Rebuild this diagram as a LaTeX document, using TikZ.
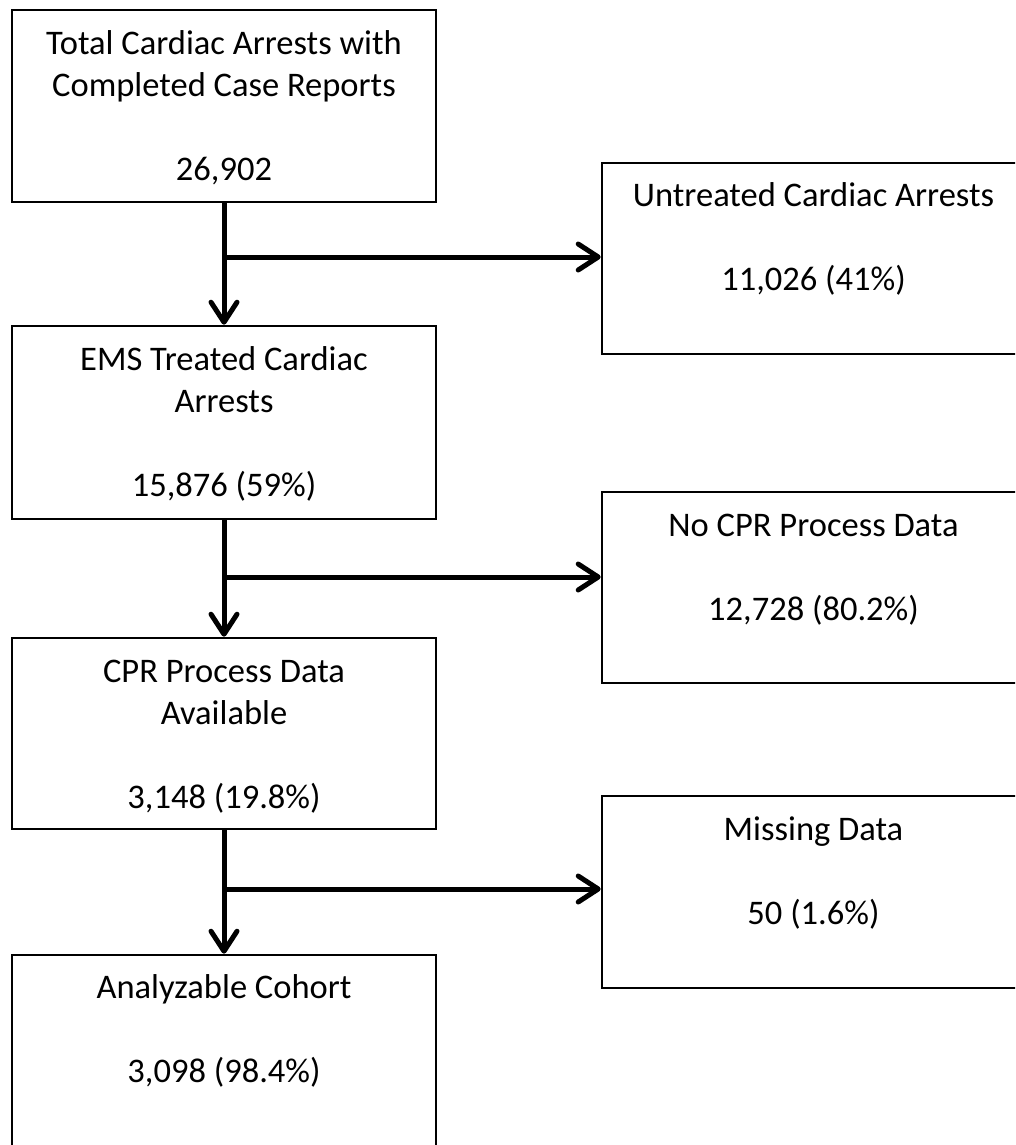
\documentclass[tikz,border=0pt]{standalone}
\usepackage{fontspec}
\setmainfont{Carlito}
\usetikzlibrary{arrows.meta}
\begin{document}
\begin{tikzpicture}[x=1pt,y=-1pt,
  box/.style={draw=black, line width=2.6pt, rectangle, inner sep=0pt},
  txt/.style={anchor=base, inner sep=0pt, font=\fontsize{34.5}{42}\selectfont},
  arr/.style={line width=5pt, -{Straight Barb[length=20pt,width=26pt,round]}},
]
\useasboundingbox (0,0) rectangle (1015,1145);
\clip (0,0) rectangle (1015,1145);
\fill[white] (0,0) rectangle (1015,1145);

% left column boxes
\node[box, minimum width=424pt, minimum height=192pt] (b1) at (224,106) {};
\node[box, minimum width=424pt, minimum height=193pt] (b2) at (224,422.5) {};
\node[box, minimum width=424pt, minimum height=191pt] (b3) at (224,733.5) {};
\node[box, minimum width=424pt, minimum height=195pt] (b4) at (224,1052.5) {};

% right column boxes
\node[box, minimum width=423pt, minimum height=191pt] (r1) at (813.5,258.5) {};
\node[box, minimum width=423pt, minimum height=191pt] (r2) at (813.5,587.5) {};
\node[box, minimum width=423pt, minimum height=192pt] (r3) at (813.5,892) {};

% texts
\node[txt] (t1) at (224,55) {\begin{tabular}[t]{@{}c@{}}Total Cardiac Arrests with\\Completed Case Reports\\ \\26,902\end{tabular}};
\node[txt] (t2) at (224,370) {\begin{tabular}[t]{@{}c@{}}EMS Treated Cardiac\\Arrests\\ \\15,876 (59\%)\end{tabular}};
\node[txt] (t3) at (224,682) {\begin{tabular}[t]{@{}c@{}}CPR Process Data\\Available\\ \\3,148 (19.8\%)\end{tabular}};
\node[txt] (t4) at (224,998) {\begin{tabular}[t]{@{}c@{}}Analyzable Cohort\\ \\3,098 (98.4\%)\end{tabular}};
\node[txt] (s1) at (813.5,206) {\begin{tabular}[t]{@{}c@{}}Untreated Cardiac Arrests\\ \\11,026 (41\%)\end{tabular}};
\node[txt] (s2) at (813.5,536) {\begin{tabular}[t]{@{}c@{}}No CPR Process Data\\ \\12,728 (80.2\%)\end{tabular}};
\node[txt] (s3) at (813.5,840) {\begin{tabular}[t]{@{}c@{}}Missing Data\\ \\50 (1.6\%)\end{tabular}};

% junctions
\coordinate (j1) at (224,257);
\coordinate (j2) at (224,577);
\coordinate (j3) at (224,889);

% connectors
\draw[arr] (b1.south) -- (b2.north);
\draw[arr] (b2.south) -- (b3.north);
\draw[arr] (b3.south) -- (b4.north);
\draw[arr] (j1) -- (j1 -| r1.west);
\draw[arr] (j2) -- (j2 -| r2.west);
\draw[arr] (j3) -- (j3 -| r3.west);
\end{tikzpicture}
\end{document}
